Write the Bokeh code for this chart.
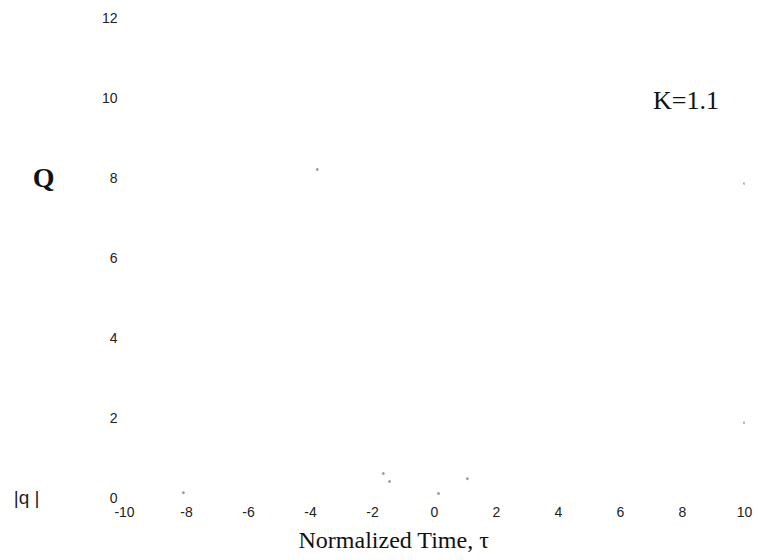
from bokeh.plotting import figure
from bokeh.models import FixedTicker, Label, ColumnDataSource, LinearAxis, Title
from bokeh.embed import file_html
from bokeh.resources import INLINE

# tick values and labels (plain hyphen minus as in the original)
x_ticks = [-10, -8, -6, -4, -2, 0, 2, 4, 6, 8, 10]
x_tick_labels = ["-10", "-8", "-6", "-4", "-2", "0", "2", "4", "6", "8", "10"]
y_ticks = [0, 2, 4, 6, 8, 10, 12]

# side labels: curve names at their y positions
q_big_pos = [8]
q_big_name = {8: "Q"}
q_small_pos = [0]
q_small_name = {0: "|q |"}

# faint remnants of the curves visible in the scan
dot_x = [-3.78, 10.0, 10.0, -1.65, -1.45, 0.13, 1.06, -8.1]
dot_y = [8.2, 7.85, 1.87, 0.6, 0.4, 0.1, 0.47, 0.12]

p = figure(width=759, height=560, x_range=(-10, 10), y_range=(0, 12),
           output_backend="svg", toolbar_location=None,
           min_border_left=124, min_border_right=15,
           min_border_top=17, min_border_bottom=63)
p.outline_line_color = None
p.xgrid.visible = False
p.ygrid.visible = False
p.background_fill_color = "white"
p.border_fill_color = "white"

def clean(ax):
    ax.axis_line_color = None
    ax.major_tick_line_color = None
    ax.minor_tick_line_color = None
    ax.major_tick_out = 0
    ax.major_tick_in = 0

for ax in (p.xaxis[0], p.yaxis[0]):
    clean(ax)
    ax.major_label_text_font = "Liberation Sans"
    ax.major_label_text_font_size = "14px"
    ax.major_label_text_color = "#222222"

p.xaxis.ticker = FixedTicker(ticks=x_ticks)
p.xaxis.major_label_overrides = {t: s for t, s in zip(x_ticks, x_tick_labels)}
p.yaxis.ticker = FixedTicker(ticks=y_ticks)
p.xaxis.major_label_standoff = 9
p.yaxis.major_label_standoff = 7

# extra left axes carrying the "Q" and "|q|" names
ax_q = LinearAxis(ticker=FixedTicker(ticks=q_big_pos), major_label_overrides=q_big_name)
clean(ax_q)
ax_q.major_label_text_font = "Liberation Serif"
ax_q.major_label_text_font_style = "bold"
ax_q.major_label_text_font_size = "28px"
ax_q.major_label_text_color = "#111111"
ax_q.major_label_standoff = 44
p.add_layout(ax_q, "left")

ax_s = LinearAxis(ticker=FixedTicker(ticks=q_small_pos), major_label_overrides=q_small_name)
clean(ax_s)
ax_s.major_label_text_font = "Liberation Sans"
ax_s.major_label_text_font_size = "19px"
ax_s.major_label_text_color = "#222222"
ax_s.major_label_standoff = -10
p.add_layout(ax_s, "left")

src = ColumnDataSource(dict(x=dot_x, y=dot_y))
p.scatter("x", "y", source=src, size=2, color="#999999")

p.add_layout(Label(x=7.05, y=9.93, text="K=1.1", text_font="Liberation Serif",
                   text_font_size="26px",
                   text_baseline="middle", text_align="left", text_color="#111111"))

p.add_layout(Title(text="Normalized Time, τ", align="left", offset=174, standoff=10,
                   text_font="Liberation Serif", text_font_style="normal",
                   text_font_size="24px", text_color="#111111"), "below")

open("out.html", "w").write(file_html(p, INLINE))
